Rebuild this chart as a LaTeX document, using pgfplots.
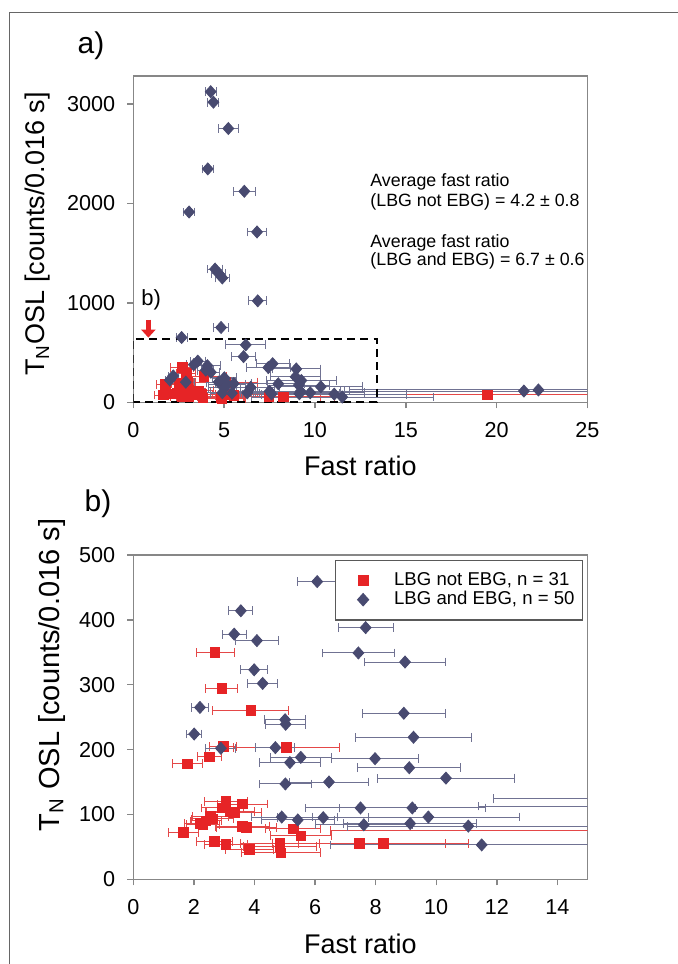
\documentclass[border=0pt]{standalone}
\usepackage{fontspec}
\setmainfont{Liberation Sans}
\usepackage{pgfplots}
\pgfplotsset{compat=1.18}
\usepackage{pgfplotstable}
\usetikzlibrary{arrows.meta}
\definecolor{rsq}{RGB}{230,36,38}
\definecolor{rbar}{RGB}{228,72,72}
\definecolor{bdm}{RGB}{72,74,112}
\definecolor{bbar}{RGB}{112,114,146}
\definecolor{axgray}{RGB}{135,135,135}

\pgfplotstableread{
x y ex
2.70 350 0.63
2.92 294 0.53
3.88 260 1.25
2.97 205 0.45
5.06 203 1.76
2.51 189 0.40
1.78 178 0.50
3.06 120 0.72
3.60 116 0.83
2.95 110 0.70
3.19 104 0.80
3.33 103 0.90
2.55 97 0.60
2.62 93 0.70
2.20 86 0.50
2.30 84 0.55
3.60 82 0.90
3.74 80 1.00
5.28 78 0.90
1.65 72.5 0.50
5.53 67 1.00
2.67 58 0.60
3.06 54 0.70
3.83 46 0.80
4.84 55 1.30
4.84 50 1.20
4.87 41 1.30
7.46 55 2.85
8.25 55 2.80
2.40 90 0.50
19.5 75 13.0
}\redtab

\pgfplotstableread{
x y ex
6.07 459 0.66
3.55 414 0.40
3.33 378 0.40
4.08 368 0.72
3.99 323 0.45
4.27 302 0.49
7.67 388 0.91
7.43 349 1.20
8.97 335 1.33
8.93 256 1.36
2.20 265 0.28
5.01 246 0.67
5.03 239 0.67
2.01 224 0.25
9.25 219 1.92
2.89 202 0.50
4.69 203 0.64
5.53 188 1.00
5.17 180 1.02
7.98 186 1.45
9.11 172 1.70
10.32 156 2.27
6.46 150 1.29
5.02 147 0.86
7.50 110 1.80
9.21 110 2.40
9.74 96 3.00
6.27 95 1.50
5.43 91.5 1.20
7.61 84 1.60
9.14 86 2.20
11.06 82 4.00
11.50 53 5.00
4.90 96 1.00
21.5 113 10.1
22.3 124 10.4
4.26 3122 0.30
4.41 3017 0.30
5.23 2752 0.55
4.10 2346 0.30
6.11 2121 0.60
3.07 1913 0.30
6.81 1712 0.52
4.50 1339 0.40
4.70 1295 0.40
4.90 1250 0.40
6.85 1020 0.50
4.83 752 0.40
2.66 651 0.30
6.19 577 1.10
}\bluetab

\pgfplotsset{
  mystyle/.style={
    scale only axis,
    axis line style={axgray, line width=0.7pt},
    tick style={axgray, line width=0.7pt},
    tick align=outside, major tick length=3pt, tick pos=left,
    /pgf/number format/assume math mode=true,
    /pgf/number format/1000 sep={},
    scaled ticks=false,
    ticklabel style={font=\fontsize{10.8}{13}\selectfont},
    yticklabel style={xshift=-2.5pt},
    xticklabel style={yshift=-3.5pt},
    label style={font=\fontsize{13.5}{15}\selectfont},
    clip=true,
  },
  redpts/.style={only marks, mark=square*, mark size=2.4pt, color=rsq,
    mark options={fill=rsq, draw=rsq},
    legend image code/.code={\path[draw=none,fill=none] (0pt,-1pt) rectangle (20pt,1pt); \draw[##1] plot coordinates {(10pt,0pt)};},
    error bars/.cd, x dir=both, x explicit,
    error bar style={rbar, line width=0.5pt},
    error mark options={rbar, mark size=2.2pt, line width=0.5pt, rotate=90}},
  bluepts/.style={only marks, mark=diamond*, mark size=3pt, color=bdm,
    mark options={fill=bdm, draw=bdm, xscale=1.2},
    legend image code/.code={\path[draw=none,fill=none] (0pt,-1pt) rectangle (20pt,1pt); \draw[##1] plot coordinates {(10pt,0pt)};},
    error bars/.cd, x dir=both, x explicit,
    error bar style={bbar, line width=0.5pt},
    error mark options={bbar, mark size=2.2pt, line width=0.5pt, rotate=90}},
}

\begin{document}
\begin{tikzpicture}
\useasboundingbox (0,0) rectangle (339pt,482pt);
\draw[gray!80!black, line width=0.5pt] (4.5pt,0pt) -- (4.5pt,475.5pt) -- (339pt,475.5pt);
\node[font=\fontsize{15}{17}\selectfont] at (45.5pt,459pt) {a)};
\node[font=\fontsize{15}{17}\selectfont] at (49pt,230pt) {b)};

% Panel a
\begin{axis}[mystyle,
  at={(66.65pt,280.85pt)}, anchor=south west,
  width=227.1pt, height=163.15pt,
  xmin=0, xmax=25, ymin=0, ymax=3280,
  xtick={0,5,...,25}, ytick={0,1000,2000,3000},
  xlabel={Fast ratio}, ylabel={T\textsubscript{N}OSL [counts/0.016 s]},
  xlabel style={at={(axis description cs:0.5,-0.195)}, anchor=center},
  ylabel style={at={(axis description cs:-0.21,0.516)}, anchor=center, rotate=0},
]
\addplot+[redpts] table[x=x, y=y, x error=ex] {\redtab};
\addplot+[bluepts] table[x=x, y=y, x error=ex] {\bluetab};
\draw[black, line width=1.1pt, dash pattern=on 4pt off 2.6pt] (axis cs:0,0) rectangle (axis cs:13.4,637);
\draw[rsq, line width=2.4pt, -{Triangle[length=4pt, width=7pt]}] (axis cs:0.83,830) -- (axis cs:0.83,650);
\node[font=\fontsize{11}{12}\selectfont] at (axis cs:0.98,1030) {b)};
\node[font=\fontsize{8.9}{10}\selectfont, anchor=base west, inner sep=0pt] at (axis cs:13.03,2165) {Average fast ratio};
\node[font=\fontsize{8.9}{10}\selectfont, anchor=base west, inner sep=0pt] at (axis cs:13.03,1970) {(LBG not EBG) = 4.2 ± 0.8};
\node[font=\fontsize{8.9}{10}\selectfont, anchor=base west, inner sep=0pt] at (axis cs:13.03,1561) {Average fast ratio};
\node[font=\fontsize{8.9}{10}\selectfont, anchor=base west, inner sep=0pt] at (axis cs:13.03,1373) {(LBG and EBG) = 6.7 ± 0.6};
\end{axis}

% Panel b
\begin{axis}[mystyle,
  at={(66.65pt,42.35pt)}, anchor=south west,
  width=227.2pt, height=162.15pt,
  xmin=0, xmax=15, ymin=0, ymax=500,
  xtick={0,2,...,14}, ytick={0,100,...,500},
  xlabel={Fast ratio}, ylabel={T\textsubscript{N} OSL [counts/0.016 s]},
  xlabel style={at={(axis description cs:0.5,-0.2)}, anchor=center},
  ylabel style={at={(axis description cs:-0.18,0.63)}, anchor=center, rotate=0, font=\fontsize{14.5}{16}\selectfont},
  legend style={at={(0.99,0.985)}, anchor=north east, draw=gray!70!black, line width=0.6pt,
    font=\fontsize{9.3}{10}\selectfont, inner xsep=4pt, inner ysep=5.5pt, row sep=0.5pt,
    column sep=5.5pt, nodes={inner xsep=0pt, inner ysep=0.5pt}},
  legend cell align=left,
]
\addplot+[redpts] table[x=x, y=y, x error=ex] {\redtab};
\addlegendentry{LBG not EBG, n = 31\hspace{1pt}}
\addplot+[bluepts] table[x=x, y=y, x error=ex] {\bluetab};
\addlegendentry{LBG and EBG, n = 50\hspace{1pt}}
\end{axis}
\end{tikzpicture}
\end{document}
